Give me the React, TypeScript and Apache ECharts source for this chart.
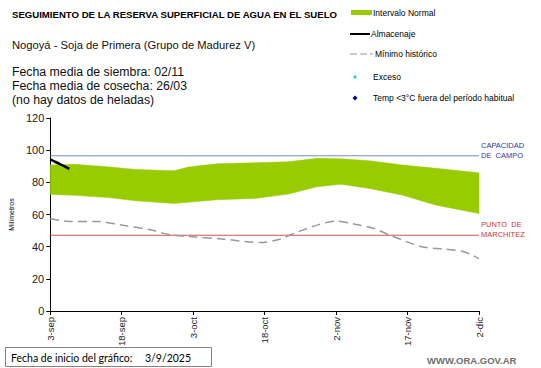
import React, { useEffect, useRef } from "react";
import * as echarts from "echarts";

const xTickLabels = ["3-sep", "18-sep", "3-oct", "18-oct", "2-nov", "17-nov", "2-dic"];

const bandDays = [0, 5, 12, 18, 26, 29, 35, 43, 50, 56, 61, 67, 74, 81, 90];
const bandUpper = [90.7, 91.2, 89.7, 88.0, 87.2, 89.5, 91.5, 92.2, 92.8, 94.9, 94.6, 93.4, 90.7, 88.7, 85.9];
const bandLower = [72.5, 71.9, 70.6, 68.5, 66.9, 67.6, 69.2, 70.0, 72.7, 77.2, 78.8, 76.2, 72.0, 65.8, 60.6];

const minDays = [0, 4, 10, 15, 21, 25, 30, 36, 44, 48, 52, 56, 60, 64, 68, 71, 78, 83, 87, 90];
const minVals = [57.5, 55.7, 55.7, 53.4, 50.5, 47.5, 46.1, 44.8, 42.6, 44.5, 49.2, 53.4, 55.9, 54.0, 51.3, 47.5, 40.0, 38.4, 36.7, 32.6];

const almDays = [0, 1, 2, 3, 4];
const almVals = [94.3, 92.8, 91.4, 89.9, 88.4];

const refStart = 0;
const refEnd = 90;
const capacidadCampo = 96.5;
const puntoMarchitez = 47.1;

const F = '"Liberation Sans", Arial, sans-serif';

export default function App() {
  const ref = useRef<HTMLDivElement>(null);
  useEffect(() => {
    if (!ref.current) return;
    const chart = echarts.init(ref.current, null, { renderer: "svg" });
    const bandData = bandDays.map((d, i) => [d, bandLower[i], bandUpper[i]]);
    const minData = minDays.map((d, i) => [d, minVals[i]]);
    const almData = almDays.map((d, i) => [d, almVals[i]]);

    const txt = (text: string, x: number, y: number, font: string, fill = "#000") => ({
      type: "text",
      x,
      y,
      silent: true,
      style: { text, font, fill, verticalAlign: "middle", align: "left" },
    });

    const refLine = (name: string, value: number, color: string, textColor: string, label: string) => ({
      type: "line",
      name,
      data: [
        [refStart, value],
        [refEnd, value],
      ],
      symbol: "none",
      silent: true,
      z: 3,
      color,
      lineStyle: { color, width: 1, type: "solid" },
      endLabel: {
        show: true,
        distance: 2,
        offset: [0, -5.5],
        formatter: () => label,
        color: textColor,
        fontFamily: F,
        fontSize: 7.5,
        lineHeight: 9.5,
      },
    });

    chart.setOption({
      animation: false,
      backgroundColor: "#fff",
      grid: { left: 33, right: 62, top: 118, bottom: 57, containLabel: false },
      xAxis: {
        type: "value",
        min: 0,
        max: 90,
        interval: 15,
        splitLine: { show: false },
        axisLine: { lineStyle: { color: "#000", width: 1 } },
        axisTick: { show: true, length: 4, lineStyle: { color: "#000" } },
        axisLabel: {
          rotate: 90,
          margin: 6,
          fontFamily: F,
          fontSize: 9.5,
          color: "#222",
          formatter: (v: number) => xTickLabels[Math.round(v / 15)] ?? "",
        },
      },
      yAxis: {
        type: "value",
        min: 0,
        max: 120,
        interval: 20,
        name: "Milímetros",
        nameLocation: "middle",
        nameRotate: 90,
        nameGap: 31,
        nameTextStyle: { fontFamily: F, fontSize: 7, color: "#000" },
        splitLine: { show: false },
        axisLine: { show: true, lineStyle: { color: "#000", width: 1 } },
        axisTick: { show: true, length: 4, lineStyle: { color: "#000" } },
        axisLabel: { fontFamily: F, fontSize: 11, color: "#222", margin: 6 },
      },
      series: [
        {
          type: "custom",
          name: "Intervalo Normal",
          data: bandData,
          encode: { x: 0, y: [1, 2] },
          silent: true,
          z: 2,
          renderItem: (params: any, api: any) => {
            if (params.dataIndex !== 0) return null;
            const top = bandData.map((p) => api.coord([p[0], p[2]]));
            const bottom = bandData.map((p) => api.coord([p[0], p[1]])).reverse();
            return {
              type: "polygon",
              shape: { points: top.concat(bottom) },
              style: { fill: "#99cc00", stroke: "#99cc00", lineWidth: 0.5 },
            };
          },
        },
        refLine("Capacidad de campo", capacidadCampo, "#7092c8", "#3333aa", "CAPACIDAD\nDE  CAMPO"),
        refLine("Punto de marchitez", puntoMarchitez, "#cc5555", "#cc3333", "PUNTO  DE\nMARCHITEZ"),
        {
          type: "line",
          name: "Mínimo histórico",
          data: minData,
          symbol: "none",
          smooth: 0.3,
          lineStyle: { color: "#9a9a9a", width: 1.5, type: [9, 5] },
          z: 4,
        },
        {
          type: "line",
          name: "Almacenaje",
          data: almData,
          symbol: "none",
          lineStyle: { color: "#000", width: 2.5 },
          z: 5,
        },
      ],
      graphic: [
        txt("SEGUIMIENTO DE LA RESERVA SUPERFICIAL DE AGUA EN EL SUELO", 12, 14, `bold 9.6px ${F}`),
        txt("Nogoyá - Soja de Primera (Grupo de Madurez V)", 12, 45, `11.2px ${F}`, "#111"),
        txt("Fecha media de siembra: 02/11", 12, 72, `12.3px ${F}`, "#111"),
        txt("Fecha media de cosecha: 26/03", 12, 86, `12.3px ${F}`, "#111"),
        txt("(no hay datos de heladas)", 12, 100, `12.3px ${F}`, "#111"),
        { type: "rect", silent: true, shape: { x: 351, y: 10, width: 21, height: 5 }, style: { fill: "#99cc00" } },
        txt("Intervalo Normal", 373, 12.5, `8.5px ${F}`),
        { type: "line", silent: true, shape: { x1: 350, y1: 34, x2: 370, y2: 34 }, style: { stroke: "#000", lineWidth: 2 } },
        txt("Almacenaje", 371, 34, `8.5px ${F}`),
        { type: "line", silent: true, shape: { x1: 350, y1: 54, x2: 373, y2: 54 }, style: { stroke: "#9a9a9a", lineWidth: 1.2, lineDash: [7, 3] } },
        txt("Mínimo histórico", 375, 54, `8.5px ${F}`),
        { type: "circle", silent: true, shape: { cx: 355, cy: 77, r: 1.6 }, style: { fill: "#33cccc" } },
        txt("Exceso", 373, 77, `8.5px ${F}`),
        {
          type: "polygon",
          silent: true,
          shape: { points: [[355, 95.5], [357.5, 98], [355, 100.5], [352.5, 98]] },
          style: { fill: "#000080" },
        },
        txt("Temp <3°C fuera del período habitual", 373, 98, `8.5px ${F}`),
        {
          type: "rect",
          silent: true,
          shape: { x: 5.5, y: 347.5, width: 206, height: 19 },
          style: { fill: "#fff", stroke: "#8c7f7f", lineWidth: 1 },
        },
        txt("Fecha de inicio del gráfico:", 11, 357.5, `10.5px Lato, ${F}`),
        txt("3/9/2025", 145, 357.5, `10.5px Lato, ${F}`),
        txt("WWW.ORA.GOV.AR", 427, 360, `bold 9.5px ${F}`, "#6e6e6e"),
      ],
    });
    return () => chart.dispose();
  }, []);
  return <div ref={ref} style={{ width: 541, height: 368, position: "absolute", left: 0, top: 0 }} />;
}
